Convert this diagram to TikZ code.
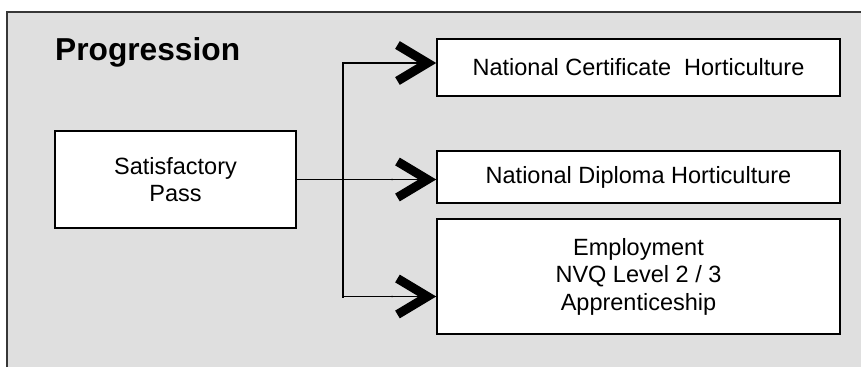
\documentclass[tikz,border=0pt]{standalone}
\usepackage{fontspec}
\setmainfont{Liberation Sans}
\usetikzlibrary{arrows.meta,positioning,calc}
\definecolor{panelgray}{RGB}{223,223,223}
\definecolor{framegray}{RGB}{55,55,55}
\tikzset{
  pbox/.style    = {draw=black,line width=1.6pt,fill=white,align=center,
                    font=\fontsize{23.5}{27.5}\selectfont,inner sep=0pt},
  link/.style    = {line width=1.3pt},
  trunk/.style   = {line width=2pt,line cap=rect},
  chevron/.style = {link,-{Butt Cap[]Straight Barb[length=30pt,width=36pt,line width=9pt]}},
}

\begin{document}
\begin{tikzpicture}[x=1pt,y=-1pt]
  \useasboundingbox (0,0) rectangle (861,367);
  % panel
  \fill[panelgray] (7,12) rectangle (861,367);
  \draw[framegray,line width=1.6pt] (7,367) -- (7,12) -- (861,12);
  \node[anchor=base west,inner sep=0pt,font=\fontsize{31.7}{36}\selectfont\bfseries]
       (title) at (55,60) {Progression};
  % boxes
  \node[pbox,minimum width=241pt,minimum height=97pt] (pass) at (175.5,179.5)
       {Satisfactory\\Pass};
  \node[pbox,minimum width=403pt,minimum height=57pt] (cert) at (638.5,67.5)
       {National Certificate\ \ Horticulture};
  \node[pbox,minimum width=403pt,minimum height=52pt] (dipl) at (638.5,177)
       {National Diploma Horticulture};
  \node[pbox,minimum width=403pt,minimum height=115pt] (empl) at (638.5,276.5)
       {Employment\\NVQ Level 2 / 3\\Apprenticeship};
  % connectors
  \coordinate (fork)   at (343,180);
  \coordinate (certin) at ([yshift=4.5pt]cert.west);
  \coordinate (emplin) at ([yshift=-20pt]empl.west);
  \draw[chevron] (pass.east) -- (pass.east -| dipl.west);
  \draw[trunk] (certin -| fork) -- (emplin -| fork);
  \draw[chevron] (certin -| fork) -- (certin);
  \draw[chevron] (emplin -| fork) -- (emplin);
\end{tikzpicture}
\end{document}
